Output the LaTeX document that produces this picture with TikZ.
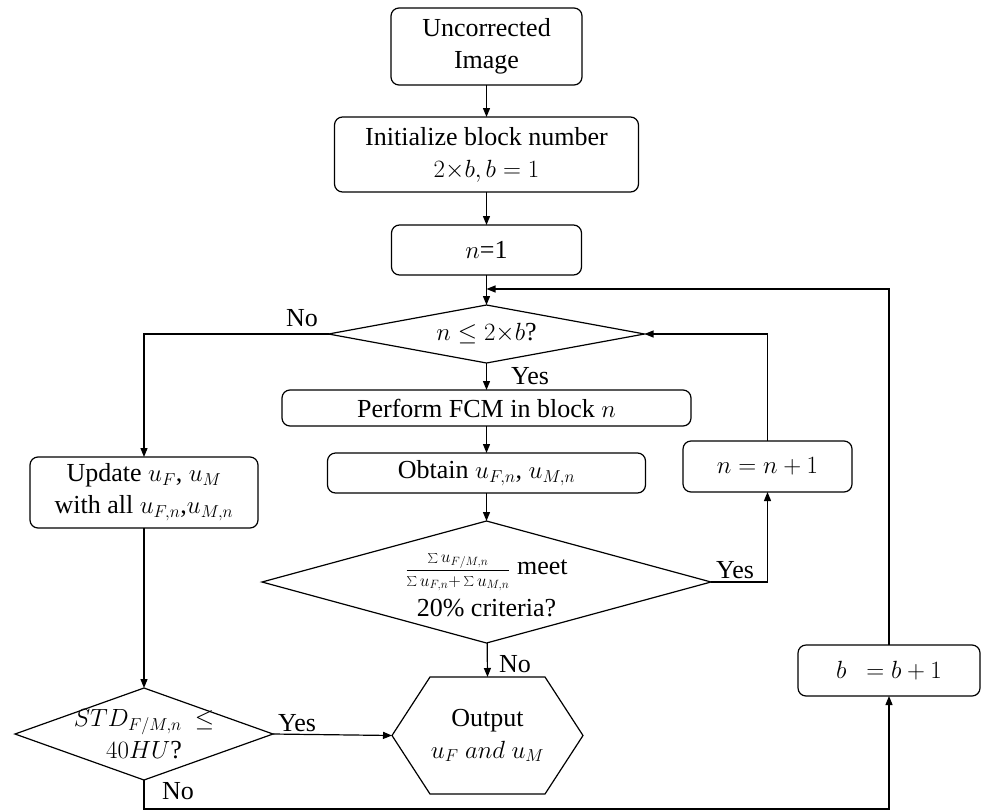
\documentclass[tikz,border=0pt]{standalone}
\usepackage{fontspec}
\setmainfont{Liberation Serif}
\usetikzlibrary{shapes.geometric,arrows.meta,calc}
\begin{document}
\begin{tikzpicture}[x=1pt,y=-1pt,
  every node/.style={font=\fontsize{26}{32}\selectfont\rmfamily, inner sep=0pt, outer sep=0pt},
  box/.style={draw, rounded corners=8pt, line width=1.2pt, align=center},
  dia/.style={draw, diamond, line width=1.2pt},
  txt/.style={align=center},
  conn/.style={line width=1.2pt, -{Triangle[length=9pt,width=7pt]}},
  plain/.style={line width=1.2pt}]
\useasboundingbox (0,0) rectangle (981,811);

% boxes
\node[box, minimum width=191pt, minimum height=77pt] (unc) at (486.5,46.5) {Uncorrected\\Image};
\node[box, minimum width=304pt, minimum height=75pt] (init) at (486.5,154.5) {Initialize block number\\$2{\times}b, b=1$};
\node[box, minimum width=190pt, minimum height=50pt] (n1) at (486.5,250) {$n$=1};
\node[dia, minimum width=316pt, minimum height=58pt] (d1) at (486.5,334) {};
\node[txt] (d1t) at (486.5,334) {$n \le 2{\times}b$?};
\node[box, minimum width=409pt, minimum height=36pt] (perf) at (486.5,408) {Perform FCM in block $n$};
\node[box, minimum width=318pt, minimum height=40pt] (obt) at (486.5,473) {Obtain $u_{F,n}$, $u_{M,n}$};
\node[dia, minimum width=449pt, minimum height=122pt] (d2) at (486.5,582) {};
\node[txt] (d2t) at (486.5,585) {{\fontsize{18}{21}\selectfont$\displaystyle\frac{\sum u_{F/M,n}}{\sum u_{F,n}{+}\sum u_{M,n}}$} meet\\[7pt]20\% criteria?};
\node[box, minimum width=169pt, minimum height=51pt] (np1) at (767.5,466.5) {$n=n+1$};
\node[box, minimum width=182pt, minimum height=51pt] (bp1) at (889,670.5) {$b\ \ = b+1$};
\node[box, minimum width=228pt, minimum height=71pt] (upd) at (144,492.5) {Update $u_F$, $u_M$\\with all $u_{F,n}$,$u_{M,n}$};
\node[dia, minimum width=258pt, minimum height=92pt] (d3) at (144,734) {};
\node[txt] (d3t) at (144,734) {$STD_{F/M,n}$\ \ $\le$\\$40HU$?};
% output hexagon
\node[minimum width=191pt, minimum height=117pt] (out) at (487.5,735.5) {};
\draw[plain] (out.west) -- ++(38,-58.5) -- ++(115,0) -- (out.east) -- ++(-38,58.5) -- ++(-115,0) -- cycle;
\node[txt] (outt) at (487.5,735.5) {Output\\$u_F\ and\ u_M$};

% coordinates for loop lines
\coordinate (ytop) at (0,289);
\coordinate (ybot) at (0,809);

% connectors
\draw[conn] (unc) -- (init);
\draw[conn] (init) -- (n1);
\draw[conn] (n1) -- (d1);
\draw[conn] (d1) -- (perf);
\draw[conn] (perf) -- (obt);
\draw[conn] (obt) -- (d2);
\draw[conn] (d2) -- (out.north);
\draw[conn] (d2.east) -| (np1.south);
\draw[conn] (np1.north) |- (d1.east);
\draw[conn] (d1.west) -| (upd.north);
\draw[conn] (upd) -- (d3);
\draw[conn] (d3.east) -- (out.west);
\draw[conn] (d3.south) -- (d3.south |- ybot) -| (bp1.south);
\draw[conn] (bp1.north) |- (n1.south |- ytop);

% labels
\node (l1) at (302,318) {No};
\node (l2) at (530,376) {Yes};
\node (l3) at (735,570) {Yes};
\node (l4) at (515,664) {No};
\node (l5) at (297,723) {Yes};
\node (l6) at (178,791) {No};
\end{tikzpicture}
\end{document}
